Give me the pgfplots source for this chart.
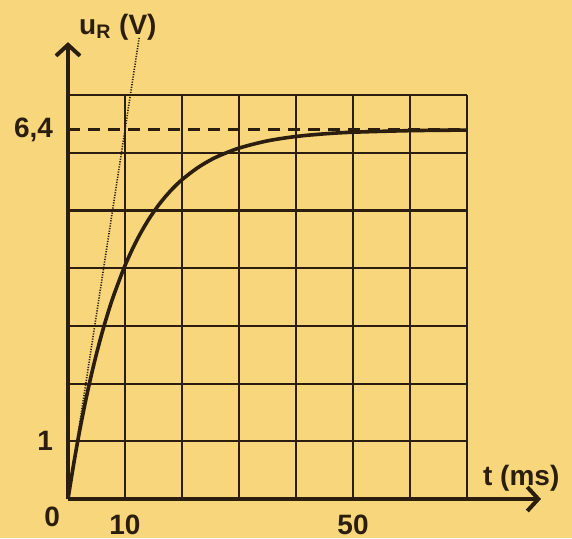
\documentclass[border=0pt]{standalone}
\usepackage{fontspec}
\setmainfont{Liberation Sans}
\usepackage{pgfplots}
\pgfplotsset{compat=1.18}
\usetikzlibrary{arrows.meta}

\definecolor{paper}{HTML}{F8D67C}
\definecolor{ink}{HTML}{2B1E0E}

\begin{document}
\begin{tikzpicture}
% page background (1 px of the reference = 0.5pt)
\fill[paper] (-34pt,-19.5pt) rectangle (252pt,249.5pt);
\begin{axis}[
    at={(0,0)}, anchor=origin,
    x=2.85pt, y=28.85pt,
    xmin=0, xmax=70, ymin=0, ymax=7,
    clip=false,
    axis lines=left,
    axis line style={ink, line width=2pt},
    x axis line style={-{Straight Barb[length=5.5pt,width=12pt]}, shorten >=-37pt},
    y axis line style={-{Straight Barb[length=5.5pt,width=12pt]}, shorten >=-26.5pt},
    xtick={0,10,...,70}, ytick={0,1,...,7},
    xticklabels={,10,,,,50,,},
    yticklabels={,1,,,,,,},
    extra y ticks={6.4}, extra y tick labels={6{,}4},
    extra y tick style={grid=major,
        major grid style={ink, line width=1.3pt, dash pattern=on 6pt off 4pt}},
    major tick length=0pt,
    grid=major,
    major grid style={ink, line width=1.1pt},
    /pgf/number format/assume math mode=true,
    tick label style={font=\bfseries\fontsize{14}{16}\selectfont, text=ink},
    xticklabel style={yshift=-4.5pt},
    yticklabel style={xshift=-4pt},
    xlabel={t (ms)}, ylabel={u\textsubscript{R} (V)},
    every axis x label/.style={at={(axis description cs:1.136,0.051)}, anchor=center,
        font=\bfseries\fontsize{14}{16}\selectfont, text=ink},
    every axis y label/.style={at={(axis description cs:0.125,1.169)}, anchor=center,
        font=\bfseries\fontsize{14}{16}\selectfont, text=ink},
]
% tangent at the origin
\addplot[ink, line width=0.8pt, dash pattern=on 0.6pt off 0.7pt] coordinates {(0,0) (12.5,8)};

% u_R(t)
\addplot[ink, line width=1.8pt, smooth] coordinates {
    (0,0) (1,0.609) (2,1.160) (3,1.659) (4,2.110) (5,2.518) (6,2.888)
    (7,3.222) (8,3.524) (10,4.046) (12,4.472) (14,4.822) (16,5.108)
    (18,5.342) (20,5.534) (23,5.758) (26,5.925) (30,6.081) (35,6.207)
    (40,6.283) (45,6.329) (50,6.357) (60,6.384) (70,6.394)
};

\node[font=\bfseries\fontsize{14}{16}\selectfont, text=ink]
    at (axis description cs:-0.04,-0.045) {0};
\end{axis}
\pgfresetboundingbox
\path[use as bounding box] (-34pt,-19.5pt) rectangle (252pt,249.5pt);
\end{tikzpicture}
\end{document}
